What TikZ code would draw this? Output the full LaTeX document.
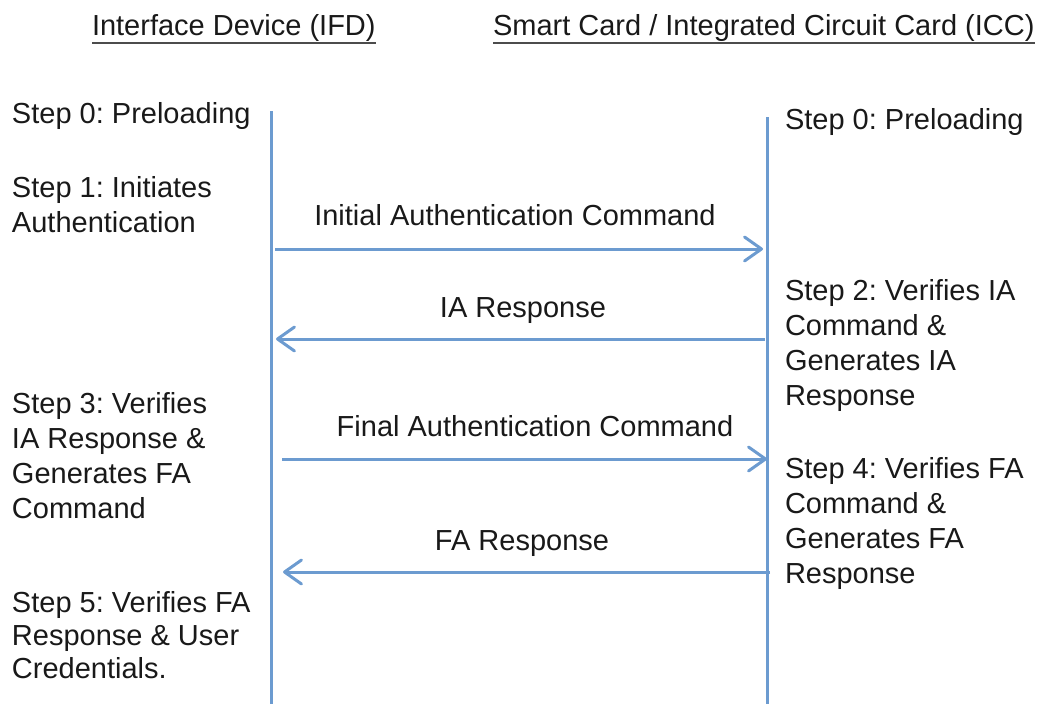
\documentclass[tikz,border=0pt]{standalone}
\usepackage{fontspec}
\setmainfont{Liberation Sans}
\usetikzlibrary{arrows.meta}
\definecolor{lifeblue}{RGB}{108,155,208}
\definecolor{inktext}{RGB}{25,25,25}
\frenchspacing
\begin{document}
\begin{tikzpicture}[x=1pt,y=-1pt,
  every node/.style={inner sep=0pt,outer sep=0pt,text=inktext,
    font=\fontsize{29}{35}\selectfont},
  % multi-line nodes are anchored at the baseline of their last line
  steptext/.style={anchor=base west,align=left},
  msglabel/.style={anchor=base},
  header/.style={anchor=base west},
  lifeline/.style={draw=lifeblue,line width=3pt},
  message/.style={draw=lifeblue,line width=3pt,
    -{Straight Barb[length=17pt,width=24pt,line width=3pt,round]}},
  uline/.style={draw=black!70,line width=2.2pt}]
\useasboundingbox (0,0) rectangle (1040,704);

% column headers
\node[header] (hdrL) at (92,35) {Interface Device (IFD)};
\node[header] (hdrR) at (493,35) {Smart Card / Integrated Circuit Card (ICC)};
\draw[uline] ([yshift=-8pt]hdrL.base west) -- ([yshift=-8pt]hdrL.base east);
\draw[uline] ([yshift=-8pt]hdrR.base west) -- ([yshift=-8pt]hdrR.base east);

% lifelines
\coordinate (ifdTop) at (271,111);
\coordinate (ifdBot) at (271,704);
\coordinate (iccTop) at (767,117);
\coordinate (iccBot) at (767,704);
\draw[lifeline] (ifdTop) -- (ifdBot);
\draw[lifeline] (iccTop) -- (iccBot);

% IFD side steps
\node[steptext] (s0L) at (12,123) {Step 0: Preloading};
\node[steptext] (s1) at (12,232) {Step 1: Initiates\\Authentication};
\node[steptext] (s3) at (12,518) {Step 3: Verifies\\IA Response \&\\Generates FA\\Command};
\node[steptext,font=\fontsize{29}{33}\selectfont] (s5) at (12,678)
  {Step 5: Verifies FA\\Response \& User\\Credentials.};

% ICC side steps
\node[steptext] (s0R) at (785,129) {Step 0: Preloading};
\node[steptext] (s2) at (785,405) {Step 2: Verifies IA\\Command \&\\Generates IA\\Response};
\node[steptext] (s4) at (785,583) {Step 4: Verifies FA\\Command \&\\Generates FA\\Response};

% message endpoints
\coordinate (m1a) at (275,249);  \coordinate (m1b) at (763,249);
\coordinate (m2a) at (765,339);  \coordinate (m2b) at (276,339);
\coordinate (m3a) at (282,459);  \coordinate (m3b) at (767,459);
\coordinate (m4a) at (770,572);  \coordinate (m4b) at (283,572);

\draw[message] (m1a) -- (m1b);
\draw[message] (m2a) -- (m2b);
\draw[message] (m3a) -- (m3b);
\draw[message] (m4a) -- (m4b);

% message labels
\node[msglabel] (l1) at (515,225) {Initial Authentication Command};
\node[msglabel] (l2) at (523,317) {IA Response};
\node[msglabel] (l3) at (535,436) {Final Authentication Command};
\node[msglabel] (l4) at (522,550) {FA Response};
\end{tikzpicture}
\end{document}
